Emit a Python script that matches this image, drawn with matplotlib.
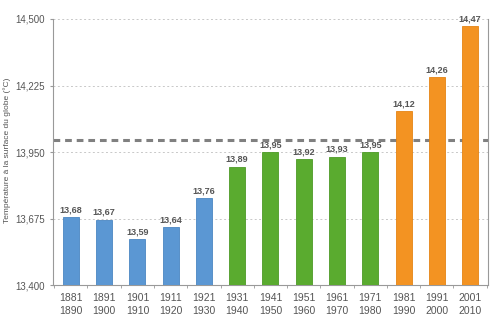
import matplotlib
matplotlib.use("Agg")
import matplotlib.pyplot as plt
import matplotlib.ticker as mtick

plt.rcParams["font.family"] = ["Liberation Sans", "DejaVu Sans"]

# Decades and mean global surface temperature (°C)
decades = ["1881\n1890", "1891\n1900", "1901\n1910", "1911\n1920", "1921\n1930",
           "1931\n1940", "1941\n1950", "1951\n1960", "1961\n1970", "1971\n1980",
           "1981\n1990", "1991\n2000", "2001\n2010"]
temps = [13.68, 13.67, 13.59, 13.64, 13.76,
         13.89, 13.95, 13.92, 13.93, 13.95,
         14.12, 14.26, 14.47]
groups = ["early"] * 5 + ["mid"] * 5 + ["late"] * 3
reference_temp = 14.0
yticks = [13.400, 13.675, 13.950, 14.225, 14.500]

face = {"early": "#5b97d3", "mid": "#5aab2f", "late": "#f39322"}
edge = {"early": "#4a86c2", "mid": "#4d9a26", "late": "#e58414"}

fig = plt.figure(figsize=(4.99, 3.27), dpi=100)
ax = fig.add_axes([0.106, 0.128, 0.872, 0.814])

x = list(range(len(decades)))
ax.bar(x, [t - yticks[0] for t in temps], bottom=yticks[0], width=0.48,
       color=[face[g] for g in groups], edgecolor=[edge[g] for g in groups],
       linewidth=0.6, zorder=3)

for xi, t in zip(x, temps):
    ax.text(xi, t + 0.012, f"{t:.2f}".replace(".", ","), ha="center", va="bottom",
            fontsize=6.5, fontweight="bold", color="#555555", zorder=4)

ax.axhline(reference_temp, color="#808080", linewidth=2.2, linestyle=(0, (2.2, 1.6)), zorder=2)

ax.set_ylim(yticks[0], yticks[-1])
ax.set_xlim(-0.54, len(decades) - 0.46)
ax.set_yticks(yticks)
ax.yaxis.set_major_formatter(mtick.FuncFormatter(lambda v, _: f"{v:.3f}".replace(".", ",")))
ax.set_xticks(x)
ax.set_xticklabels(decades, fontsize=7.5, color="#555555", linespacing=1.3)
ax.set_xticks([i + 0.5 for i in range(-1, len(decades))], minor=True)
ax.tick_params(axis="x", which="major", length=0, pad=6)
ax.tick_params(axis="x", which="minor", length=2.5, color="#999999", direction="out")
ax.tick_params(axis="y", length=2, color="#999999", labelsize=7, labelcolor="#555555")

ax.grid(axis="y", color="#c8c8c8", linestyle=(0, (2, 2.5)), linewidth=0.7, zorder=0)
for side in ["left", "right", "bottom"]:
    ax.spines[side].set_color("#999999")
    ax.spines[side].set_linewidth(0.8)
ax.spines["top"].set_visible(False)

fig.text(7 / 499, 1 - 150 / 327, "Température à la surface du globe (°C)", rotation=90,
         ha="center", va="center", fontsize=6, color="#555555")

fig.savefig("out.png", dpi=100)
